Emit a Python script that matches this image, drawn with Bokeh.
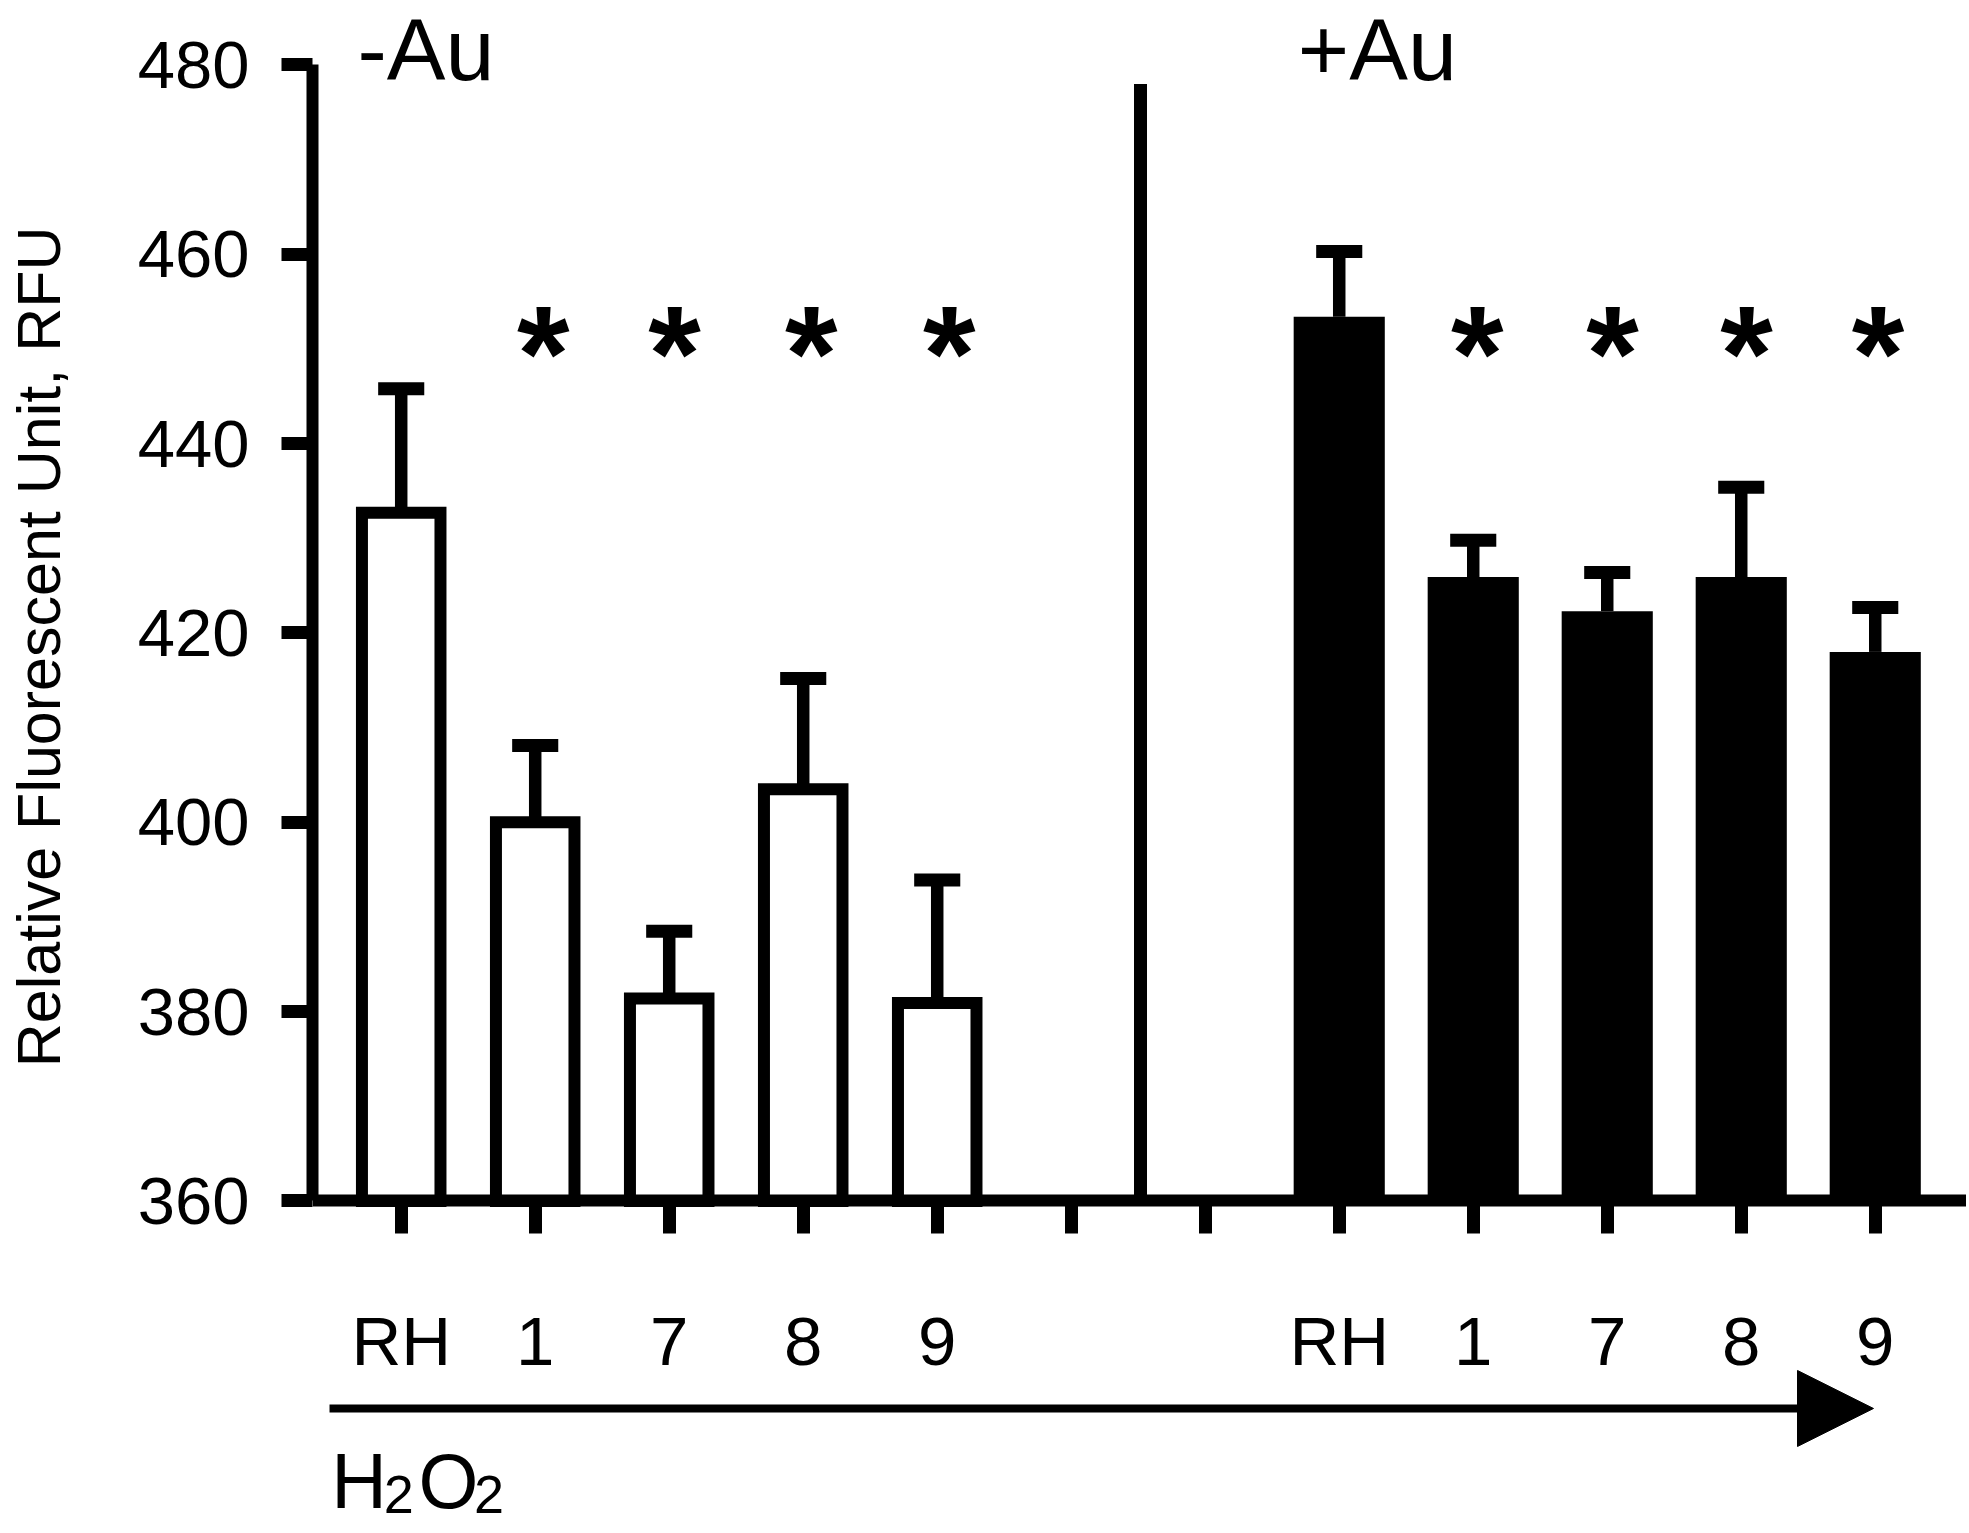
from bokeh.plotting import figure
from bokeh.models import FixedTicker, Label, Arrow, NormalHead, Range1d
from bokeh.embed import file_html
from bokeh.resources import INLINE

# ---- data ----
tick_labels = ["RH", "1", "7", "8", "9", "", "", "RH", "1", "7", "8", "9"]
neg_x = [0, 1, 2, 3, 4]            # -Au group slots
pos_x = [7, 8, 9, 10, 11]          # +Au group slots
neg_vals = [432.7, 400.0, 381.4, 403.5, 380.9]
neg_sem = [13.1, 8.1, 7.1, 11.7, 13.0]
pos_vals = [453.4, 425.9, 422.3, 425.9, 418.0]
pos_sem = [6.9, 3.9, 4.1, 9.5, 4.7]
neg_star_x = [1.06, 2.04, 3.06, 4.09]
pos_star_x = [8.03, 9.04, 10.04, 11.02]
star_y = 449.5
y_ticks = [360, 380, 400, 420, 440, 460, 480]
y_axis_bounds = (360, 480)
divider_x = 5.517
divider_top = 478.0
y_title = "Relative Fluorescent Unit, RFU"

FONT = "Liberation Sans"

p = figure(width=1966, height=1530,
           x_range=Range1d(-0.662, 11.681), y_range=Range1d(325.19, 486.81),
           output_backend="svg", toolbar_location=None,
           min_border_left=312, min_border_right=0,
           min_border_top=0, min_border_bottom=0)
p.grid.visible = False
p.outline_line_color = None
p.background_fill_color = "white"
p.border_fill_color = "white"

# axes
for ax in (p.xaxis[0], p.yaxis[0]):
    ax.axis_line_width = 12
    ax.axis_line_color = "black"
    ax.major_tick_line_width = 13
    ax.major_tick_line_color = "black"
    ax.major_tick_in = 0
    ax.minor_tick_in = 0
    ax.minor_tick_out = 0
    ax.major_label_text_font = FONT
    ax.major_label_text_color = "black"

p.yaxis.ticker = FixedTicker(ticks=y_ticks)
p.yaxis.bounds = y_axis_bounds
p.yaxis.major_tick_out = 31
p.yaxis.major_label_text_font_size = "67px"
p.yaxis.major_label_standoff = 32
# leading no-break spaces shift the centred title up to where the reference has it
p.yaxis.axis_label = "\u00a0" * 14 + y_title
p.yaxis.axis_label_text_font = FONT
p.yaxis.axis_label_text_font_style = "normal"
p.yaxis.axis_label_text_font_size = "61px"
p.yaxis.axis_label_text_color = "black"
p.yaxis.axis_label_standoff = 62

p.xaxis.ticker = FixedTicker(ticks=list(range(len(tick_labels))))
p.xaxis.major_label_overrides = {i: t for i, t in enumerate(tick_labels)}
p.xaxis.fixed_location = 360
p.xaxis.major_tick_out = 33
p.xaxis.major_label_text_font_size = "69px"
p.xaxis.major_label_standoff = 69

# bars
p.vbar(x=neg_x, top=neg_vals, bottom=360, width=0.586,
       fill_color="white", line_color="black", line_width=12,
       line_join="miter")
p.vbar(x=pos_x, top=pos_vals, bottom=360, width=0.68,
       fill_color="black", line_color=None)

# error bars (upper only)
cap_half = 0.172
for xs, vals, sems in ((neg_x, neg_vals, neg_sem), (pos_x, pos_vals, pos_sem)):
    tops = [v + s for v, s in zip(vals, sems)]
    p.segment(x0=xs, y0=vals, x1=xs, y1=tops, line_width=12.5,
              line_color="black", line_cap="butt")
    p.segment(x0=[x - cap_half for x in xs], y0=tops,
              x1=[x + cap_half for x in xs], y1=tops,
              line_width=13, line_color="black", line_cap="butt")

# divider
p.segment(x0=[divider_x], y0=[360], x1=[divider_x], y1=[divider_top],
          line_width=13, line_color="black", line_cap="butt")


def label(x, y, text, size, bold=False, align="left"):
    p.add_layout(Label(x=x, y=y, text=text, text_align=align,
                       text_baseline="alphabetic", text_font=FONT,
                       text_font_style="bold" if bold else "normal",
                       text_font_size=size, text_color="black"))


# asterisks
for sx in neg_star_x + pos_star_x:
    label(sx, star_y, "*", "135px", bold=True, align="center")

# group titles
label(-0.326, 481.6, "-Au", "88px")
label(6.691, 481.6, "+Au", "88px")

# H2O2 arrow
p.add_layout(Arrow(x_start=-0.535, y_start=338.08, x_end=10.987, y_end=338.08,
                   line_width=8, line_color="black",
                   end=NormalHead(size=76, fill_color="black", line_color="black")))
label(-0.523, 330.37, "H", "77px")
label(-0.13, 329.0, "2", "54px")
label(0.129, 330.37, "O", "77px")
label(0.543, 329.0, "2", "54px")

open("out.html", "w").write(file_html(p, INLINE))
